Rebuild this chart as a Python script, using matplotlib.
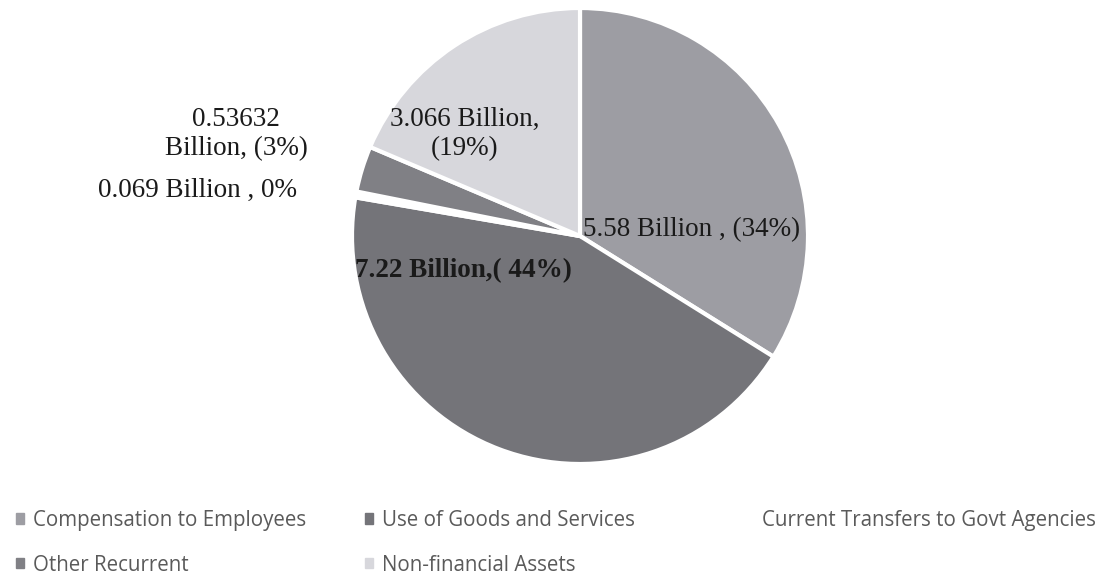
import matplotlib.pyplot as plt
from matplotlib.patches import Patch

# Recurrent expenditure breakdown (KES billions)
categories = [
    "Compensation to Employees",
    "Use of Goods and Services",
    "Current Transfers to Govt Agencies",
    "Other Recurrent",
    "Non-financial Assets",
]
values = [5.58, 7.22, 0.069, 0.53632, 3.066]
labels = [
    "5.58 Billion , (34%)",
    "7.22 Billion,( 44%)",
    "0.069 Billion , 0%",
    "0.53632\nBillion, (3%)",
    "3.066 Billion,\n(19%)",
]
colors = ["#9d9da3", "#747479", "#ffffff", "#808085", "#d7d7dc"]

W, H = 1117, 575
cx, cy, R = 580, 236, 228

fig = plt.figure(figsize=(W / 100, H / 100), dpi=100)
ax = fig.add_axes([(cx - R) / W, (H - cy - R) / H, 2 * R / W, 2 * R / H])

wedges, _ = ax.pie(
    values,
    colors=colors,
    startangle=90,
    counterclock=False,
    radius=1,
    wedgeprops=dict(edgecolor="white", linewidth=3),
)
ax.set_xlim(-1, 1)
ax.set_ylim(-1, 1)
ax.set_aspect("equal")
ax.axis("off")


def px(x, y):
    # pixel position -> pie data units
    return (x - cx) / R, (cy - y) / R


serif = "Liberation Serif"
label_pos = [
    (px(583, 230), "left", "normal"),
    (px(355, 271), "left", "bold"),
    (px(297, 190), "right", "normal"),
    (px(236, 134), "center", "normal"),
    (px(465, 134), "center", "normal"),
]
for text, (xy, ha, weight) in zip(labels, label_pos):
    ax.text(xy[0], xy[1], text, ha=ha, va="center", fontsize=19.5,
            family=serif, color="#1a1a1a", weight=weight,
            linespacing=1.25)

# Legend laid out in three columns, row-major
handles = [Patch(facecolor=c, edgecolor=c) for c in colors]
legend_cols = [
    ([0, 3], 16),
    ([1, 4], 365),
    ([2], 745),
]
for idx, x0 in legend_cols:
    fig.legend(
        [handles[i] for i in idx],
        [categories[i] for i in idx],
        loc="upper left",
        bbox_to_anchor=(x0 / W, 1 - 510 / H),
        frameon=False,
        prop={"family": "Open Sans", "size": 14.8},
        labelcolor="#5a5a5a",
        handlelength=0.4,
        handleheight=0.4,
        handletextpad=0.45,
        labelspacing=1.15,
        borderpad=0,
        borderaxespad=0,
    )

fig.savefig("out.png", dpi=100, facecolor="white")
